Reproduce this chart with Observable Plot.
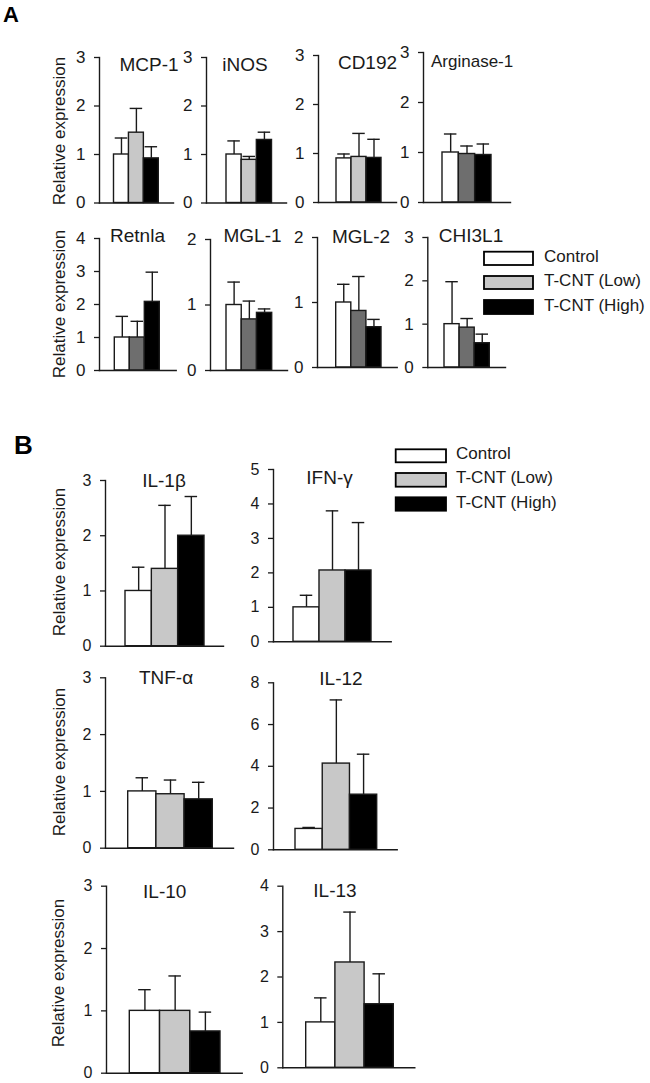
<!DOCTYPE html>
<html>
<head>
<meta charset="utf-8">
<script src="https://cdn.jsdelivr.net/npm/d3@7"></script>
<script src="https://cdn.jsdelivr.net/npm/@observablehq/plot@0.6"></script>
<style>
  html, body { margin: 0; padding: 0; background: #fff; }
  #chart { position: relative; width: 650px; height: 1083px; font-family: "Liberation Sans", Arial, sans-serif; }
  #chart svg { position: absolute; left: 0; top: 0; background: transparent !important; overflow: visible; }
</style>
</head>
<body>
<div id="chart"></div>
<script>
// ---------- DATA ----------
const groups = ["Control", "T-CNT (Low)", "T-CNT (High)"];

// Panel A genes (mean and upper SD)
const genesA = ["MCP-1", "iNOS", "CD192", "Arginase-1", "Retnla", "MGL-1", "MGL-2", "CHI3L1"];
const meanA = [
  [1.00, 1.45, 0.92],
  [1.00, 0.89, 1.30],
  [0.90, 0.93, 0.91],
  [1.00, 0.97, 0.95],
  [1.00, 1.00, 2.08],
  [1.00, 0.78, 0.88],
  [1.00, 0.87, 0.62],
  [1.00, 0.92, 0.56]
];
const errA = [
  [0.34, 0.50, 0.24],
  [0.28, 0.07, 0.16],
  [0.09, 0.48, 0.38],
  [0.37, 0.16, 0.22],
  [0.64, 0.49, 0.90],
  [0.35, 0.28, 0.06],
  [0.28, 0.53, 0.12],
  [0.98, 0.21, 0.21]
];
const yMaxA = [3, 3, 3, 3, 4, 2, 2, 3];
const yStepA = [1, 1, 1, 1, 1, 1, 1, 1];

// Panel B cytokines
const genesB = ["IL-1β", "IFN-γ", "TNF-α", "IL-12", "IL-10", "IL-13"];
const meanB = [
  [1.00, 1.40, 2.00],
  [1.00, 2.07, 2.07],
  [1.00, 0.95, 0.86],
  [1.00, 4.13, 2.64],
  [1.00, 1.00, 0.67],
  [1.00, 2.32, 1.40]
];
const errB = [
  [0.43, 1.15, 0.71],
  [0.35, 1.73, 1.39],
  [0.24, 0.25, 0.30],
  [0.07, 3.05, 1.94],
  [0.34, 0.56, 0.31],
  [0.54, 1.11, 0.67]
];
const yMaxB = [3, 5, 3, 8, 3, 4];
const yStepB = [1, 1, 1, 2, 1, 1];

const yLabel = "Relative expression";

// ---------- LAYOUT (pixels) ----------
const W = 650, H = 1083;
const FONT = '"Liberation Sans", Arial, sans-serif';
const INK = "#1a1a1a";
const LIGHT = "#c8c8c8", DARK = "#6e6e6e";

const layoutA = [
  {axis: 99,    xEnd: 173,   top: 57,  bottom: 202.5, b0: 113.5, b1: 158.3, low: LIGHT, title: {x: 149,   y: 71,  size: 19, anchor: "middle"}},
  {axis: 206,   xEnd: 286,   top: 57,  bottom: 202.5, b0: 226,   b1: 271.5, low: LIGHT, title: {x: 245,   y: 71,  size: 19, anchor: "middle"}},
  {axis: 318,   xEnd: 396,   top: 55,  bottom: 202,   b0: 336,   b1: 381,   low: LIGHT, title: {x: 367.5, y: 69,  size: 19, anchor: "middle"}},
  {axis: 423,   xEnd: 510,   top: 52,  bottom: 202,   b0: 442,   b1: 491,   low: DARK,  title: {x: 431,   y: 67,  size: 17, anchor: "start"}},
  {axis: 99,    xEnd: 175.7, top: 238, bottom: 370,   b0: 114.3, b1: 159.3, low: DARK,  title: {x: 137.5, y: 242, size: 19, anchor: "middle"}},
  {axis: 210,   xEnd: 287,   top: 239, bottom: 370,   b0: 226,   b1: 271.7, low: DARK,  title: {x: 252.5, y: 242, size: 19, anchor: "middle"}},
  {axis: 317,   xEnd: 396.7, top: 237, bottom: 367,   b0: 335.7, b1: 381,   low: DARK,  title: {x: 361,   y: 243, size: 19, anchor: "middle"}},
  {axis: 427.3, xEnd: 505,   top: 237, bottom: 367,   b0: 444,   b1: 489.3, low: DARK,  title: {x: 471,   y: 242, size: 19, anchor: "middle"}}
];
const layoutB = [
  {axis: 105,   xEnd: 223,   top: 480,   bottom: 645.7,  b0: 125,   b1: 204,   low: LIGHT, title: {x: 164,   y: 487, size: 19, anchor: "middle"}},
  {axis: 273,   xEnd: 390.7, top: 469,   bottom: 641.3,  b0: 293,   b1: 371,   low: LIGHT, title: {x: 329.5, y: 484, size: 19, anchor: "middle"}},
  {axis: 105,   xEnd: 233,   top: 677.3, bottom: 847.7,  b0: 127.7, b1: 212.3, low: LIGHT, title: {x: 166,   y: 684, size: 19, anchor: "middle"}},
  {axis: 273,   xEnd: 396.7, top: 682.3, bottom: 849.3,  b0: 295,   b1: 376.7, low: LIGHT, title: {x: 341,   y: 685, size: 19, anchor: "middle"}},
  {axis: 106,   xEnd: 241.7, top: 885.7, bottom: 1072.7, b0: 129.3, b1: 220,   low: LIGHT, title: {x: 164.7, y: 898, size: 19, anchor: "middle"}},
  {axis: 282.3, xEnd: 414.3, top: 885.7, bottom: 1067.3, b0: 305.7, b1: 393.3, low: LIGHT, title: {x: 335,   y: 897, size: 19, anchor: "middle"}}
];

const chart = document.getElementById("chart");

function drawPanel(L, means, errs, yMax, yStep, tickFont) {
  const data = groups.map((g, i) => ({group: g, value: means[i], upper: means[i] + errs[i]}));
  const bw = (L.b1 - L.b0) / 3;
  const inset = Math.max(0, (bw - 12.5) / 2);
  const ticks = d3.range(0, yMax + yStep / 2, yStep);
  const svg = Plot.plot({
    width: W, height: H,
    marginLeft: L.axis, marginRight: W - L.xEnd,
    marginTop: L.top, marginBottom: H - L.bottom,
    style: {background: "transparent", fontFamily: FONT, fontSize: tickFont + "px", color: INK, overflow: "visible"},
    x: {type: "band", domain: groups, range: [L.b0, L.b1], padding: 0, round: false, axis: null},
    y: {domain: [0, yMax], axis: null},
    color: {domain: groups, range: ["#ffffff", L.low, "#000000"]},
    marks: [
      Plot.barY(data, {x: "group", y: "value", fill: "group", stroke: INK, strokeWidth: 1.4}),
      Plot.ruleX(data, {x: "group", y1: "value", y2: "upper", stroke: INK, strokeWidth: 1.4}),
      Plot.tickY(data, {x: "group", y: "upper", insetLeft: inset, insetRight: inset, stroke: INK, strokeWidth: 1.4}),
      Plot.axisY({ticks, tickFormat: d => String(d), tickSize: 5, tickPadding: 9, label: null, fontSize: tickFont, stroke: INK, strokeWidth: 1.3, fill: INK}),
      Plot.frame({anchor: "left", stroke: INK, strokeWidth: 1.4}),
      Plot.frame({anchor: "bottom", stroke: INK, strokeWidth: 1.4})
    ]
  });
  chart.appendChild(svg);
}

layoutA.forEach((L, i) => drawPanel(L, meanA[i], errA[i], yMaxA[i], yStepA[i], 17));
layoutB.forEach((L, i) => drawPanel(L, meanB[i], errB[i], yMaxB[i], yStepB[i], 16));

// ---------- TEXT OVERLAY ----------
const ov = d3.select(chart).append("svg")
  .attr("width", W).attr("height", H)
  .style("font-family", FONT).attr("fill", INK);

// panel letters
ov.append("text").attr("x", 3).attr("y", 21.7).attr("font-size", 22).attr("font-weight", "bold").attr("fill", "#000").text("A");
ov.append("text").attr("x", 14).attr("y", 454.3).attr("font-size", 26).attr("font-weight", "bold").attr("fill", "#000").text("B");

// titles
layoutA.forEach((L, i) => {
  ov.append("text").attr("x", L.title.x).attr("y", L.title.y)
    .attr("font-size", L.title.size).attr("text-anchor", L.title.anchor).text(genesA[i]);
});
layoutB.forEach((L, i) => {
  ov.append("text").attr("x", L.title.x).attr("y", L.title.y)
    .attr("font-size", L.title.size).attr("text-anchor", L.title.anchor).text(genesB[i]);
});

// y labels
const yLabelPos = [[65, 131], [65, 304], [65, 562], [65, 762], [64, 973]];
yLabelPos.forEach(([x, y]) => {
  ov.append("text").attr("transform", `translate(${x},${y}) rotate(-90)`)
    .attr("text-anchor", "middle").attr("font-size", 17).text(yLabel);
});

// legends
const legendFills = ["#ffffff", LIGHT, "#000000"];
function legend(x0, x1, boxes, tx) {
  boxes.forEach(([y0, y1], i) => {
    ov.append("rect").attr("x", x0).attr("y", y0).attr("width", x1 - x0).attr("height", y1 - y0)
      .attr("fill", legendFills[i]).attr("stroke", "#000").attr("stroke-width", 1.8);
    ov.append("text").attr("x", tx).attr("y", (y0 + y1) / 2 + 3.6)
      .attr("font-size", 17).text(groups[i]);
  });
}
legend(484, 533, [[251.7, 265], [276, 289], [300, 314]], 544);
legend(395.7, 446, [[449.3, 462.3], [473, 486.7], [497.3, 510.7]], 456);
</script>
</body>
</html>
